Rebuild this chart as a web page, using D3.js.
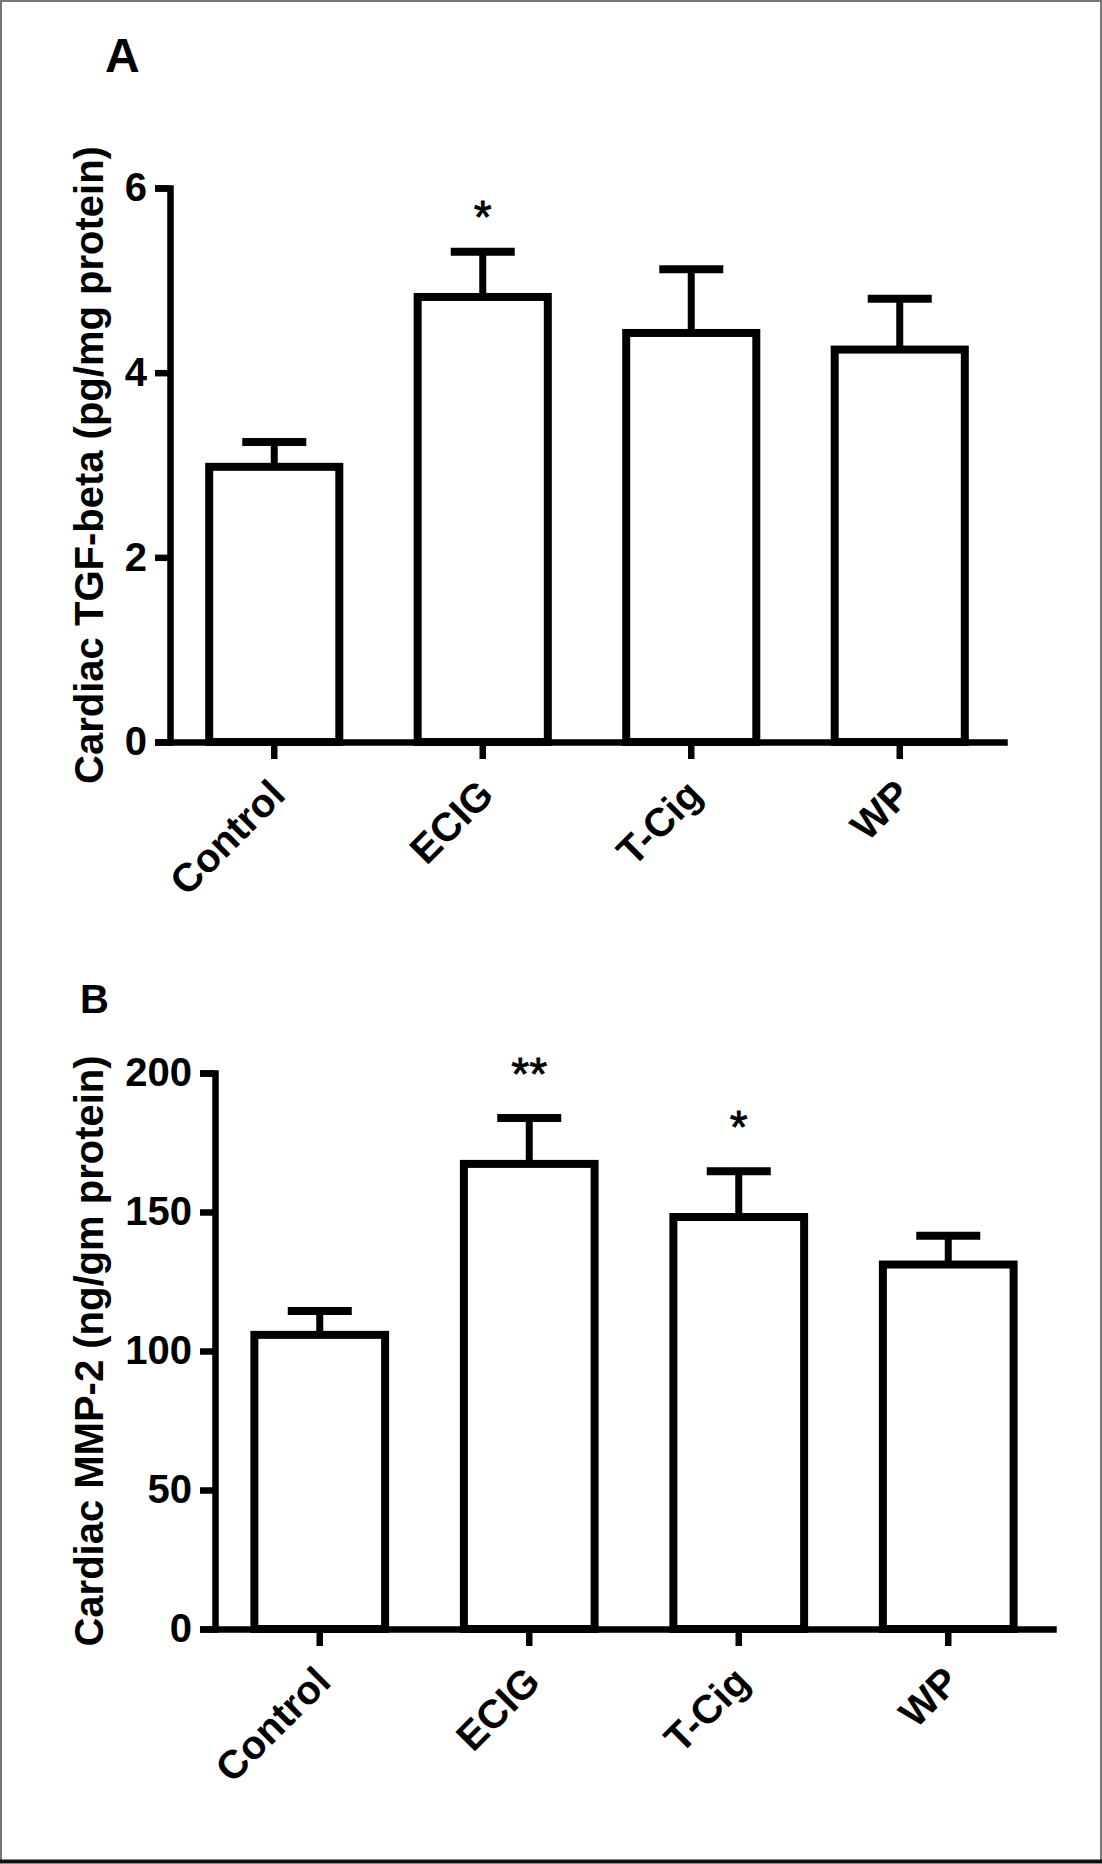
<!DOCTYPE html>
<html>
<head>
<meta charset="utf-8">
<script src="https://cdn.jsdelivr.net/npm/d3@7"></script>
<style>
  body { margin: 0; background: #fff; }
  svg { display: block; font-family: "Liberation Sans", Arial, sans-serif; }
</style>
</head>
<body>
<svg id="chart" width="1102" height="1864"></svg>
<script>
const categories = ["Control", "ECIG", "T-Cig", "WP"];

// panel A: TGF-beta
const tgfMean = [2.98, 4.82, 4.43, 4.25];
const tgfSem = [0.27, 0.49, 0.69, 0.55];
const tgfSig = ["", "*", "", ""];
const tgfTicks = [0, 2, 4, 6];

// panel B: MMP-2
const mmpMean = [105.8, 167.3, 148.2, 131.1];
const mmpSem = [8.6, 16.5, 16.5, 10.4];
const mmpSig = ["", "**", "*", ""];
const mmpTicks = [0, 50, 100, 150, 200];

const svg = d3.select("#chart");

// frame round the figure
svg.append("rect")
  .attr("x", 1).attr("y", 1)
  .attr("width", 1100).attr("height", 1860)
  .attr("fill", "none")
  .attr("stroke", "#777")
  .attr("stroke-width", 2);
svg.append("line")
  .attr("x1", 0).attr("x2", 1102)
  .attr("y1", 1861.5).attr("y2", 1861.5)
  .attr("stroke", "#111")
  .attr("stroke-width", 4);

const drawPanel = (opts) => {
  const { letter, letterX, letterY, letterSize, left, right, top, bottom,
          means, sems, sig, starGap, ticks, yMax, yLabel } = opts;

  const x = d3.scaleBand()
    .domain(categories)
    .range([left, right])
    .paddingInner(0.376)
    .paddingOuter(0.188);

  const y = d3.scaleLinear().domain([0, yMax]).range([bottom, top]);

  const g = svg.append("g");

  g.append("text")
    .attr("x", letterX)
    .attr("y", letterY)
    .attr("font-size", letterSize)
    .attr("font-weight", "bold")
    .text(letter);

  const data = categories.map((c, i) => ({ name: c, mean: means[i], sem: sems[i], sig: sig[i] }));
  const cx = (d) => x(d.name) + x.bandwidth() / 2;

  // bars
  g.append("g")
    .selectAll("rect")
    .data(data)
    .join("rect")
    .attr("x", (d) => x(d.name))
    .attr("y", (d) => y(d.mean))
    .attr("width", x.bandwidth())
    .attr("height", (d) => y(0) - y(d.mean))
    .attr("fill", "#fff")
    .attr("stroke", "#000")
    .attr("stroke-width", 8);

  // error bars (upper only)
  const capHalf = 32;
  const err = g.append("g").selectAll("g").data(data).join("g");
  err.append("line")
    .attr("x1", cx)
    .attr("x2", cx)
    .attr("y1", (d) => y(d.mean))
    .attr("y2", (d) => y(d.mean + d.sem))
    .attr("stroke", "#000")
    .attr("stroke-width", 7);
  err.append("line")
    .attr("x1", (d) => cx(d) - capHalf)
    .attr("x2", (d) => cx(d) + capHalf)
    .attr("y1", (d) => y(d.mean + d.sem))
    .attr("y2", (d) => y(d.mean + d.sem))
    .attr("stroke", "#000")
    .attr("stroke-width", 8);

  // significance stars
  const starSize = 46;
  g.append("g")
    .selectAll("text")
    .data(data.filter((d) => d.sig))
    .join("text")
    .attr("x", cx)
    .attr("y", (d) => y(d.mean + d.sem) - starGap + 0.55 * starSize)
    .attr("text-anchor", "middle")
    .attr("font-size", starSize)
    .attr("stroke", "#000")
    .attr("stroke-width", 0.8)
    .text((d) => d.sig);

  // axes
  const yAxis = g.append("g")
    .attr("transform", `translate(${left},0)`)
    .call(d3.axisLeft(y).tickValues(ticks).tickFormat(d3.format("d"))
      .tickSize(15).tickSizeOuter(15).tickPadding(8));

  const xAxis = g.append("g")
    .attr("transform", `translate(0,${bottom})`)
    .call(d3.axisBottom(x).tickSize(17).tickSizeOuter(0).tickPadding(0));

  [yAxis, xAxis].forEach((ax) => {
    ax.selectAll("path, line").attr("stroke", "#000").attr("stroke-width", 6.5);
    ax.selectAll("text")
      .attr("fill", "#000")
      .attr("font-size", 40)
      .attr("font-weight", "bold")
      .attr("font-family", "'Liberation Sans', Arial, sans-serif");
  });

  xAxis.selectAll("path").attr("stroke-linecap", "square");

  xAxis.selectAll("text")
    .attr("x", 0)
    .attr("y", 0)
    .attr("dy", 0)
    .attr("text-anchor", "end")
    .attr("transform", "translate(13,55) rotate(-45)");

  // y label
  g.append("text")
    .attr("transform", `translate(103,${(top + bottom) / 2}) rotate(-90)`)
    .attr("text-anchor", "middle")
    .attr("font-size", 40)
    .attr("font-weight", "bold")
    .text(yLabel);
};

drawPanel({
  letter: "A", letterX: 105, letterY: 72, letterSize: 48,
  left: 170, right: 1004, top: 188, bottom: 742,
  means: tgfMean, sems: tgfSem, sig: tgfSig, starGap: 44, ticks: tgfTicks, yMax: 6,
  yLabel: "Cardiac TGF-beta (pg/mg protein)"
});

drawPanel({
  letter: "B", letterX: 80, letterY: 1013, letterSize: 40,
  left: 215, right: 1053, top: 1073, bottom: 1629,
  means: mmpMean, sems: mmpSem, sig: mmpSig, starGap: 53, ticks: mmpTicks, yMax: 200,
  yLabel: "Cardiac MMP-2 (ng/gm protein)"
});
</script>
</body>
</html>
